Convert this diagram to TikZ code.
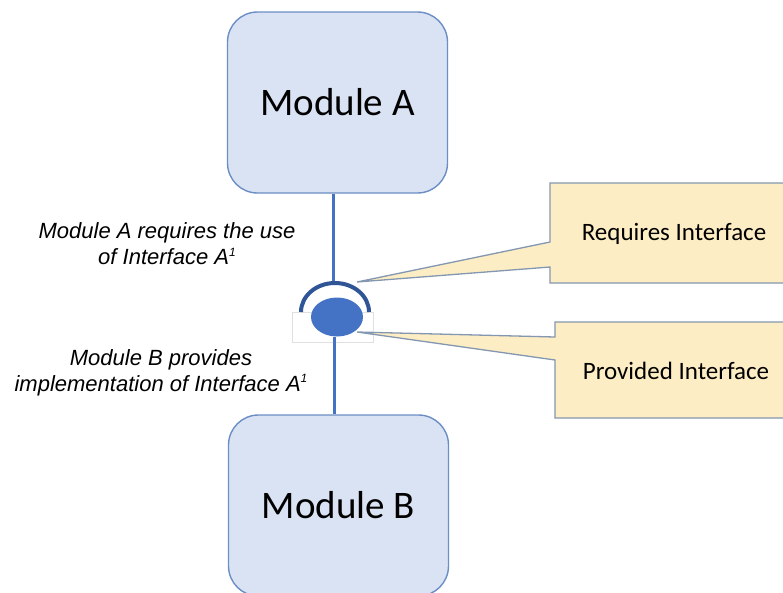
\documentclass[tikz,border=0pt]{standalone}
\usepackage{fontspec}
\setmainfont{Carlito}
\newfontfamily\labfont{Liberation Sans}
\usetikzlibrary{shapes.geometric}
\definecolor{modfill}{HTML}{DAE3F3}
\definecolor{modline}{HTML}{6C8EC6}
\definecolor{linkblue}{HTML}{4472C4}
\definecolor{arcblue}{HTML}{2F5597}
\definecolor{callfill}{HTML}{FDEDC4}
\definecolor{callline}{HTML}{8497B0}
\newcommand{\supone}{\raisebox{0.4em}{\fontsize{12}{12}\selectfont 1}}
\tikzset{
  module/.style={draw=modline, fill=modfill, line width=1.4pt, rounded corners=30pt,
    minimum width=220pt, minimum height=181pt, inner sep=0pt, font=\fontsize{39}{42}\selectfont},
  link/.style={draw=linkblue, line width=3pt},
  sockarc/.style={draw=arcblue, line width=4pt},
  callout/.style={draw=callline, fill=callfill, line width=1.3pt, line join=miter},
  calltext/.style={inner sep=0pt, font=\fontsize{25}{28}\selectfont},
  note/.style={inner sep=0pt, align=center, font=\labfont\itshape\fontsize{22}{26}\selectfont}
}
\begin{document}
\begin{tikzpicture}[x=1pt,y=-1pt]
\useasboundingbox (0,0) rectangle (783,592);
\clip (0,0) rectangle (783,592);
\fill[white] (0,0) rectangle (783,592);
% modules
\node[module] (modA) at (337.5,102.5) {Module A};
\node[module] (modB) at (338.5,505.5) {Module B};
% faint backdrop behind the ball
\draw[draw=black!12, fill=white, line width=0.8pt] (292,312) rectangle (373,342);
% ball
\node[ellipse, fill=linkblue, minimum width=52pt, minimum height=39pt, inner sep=0pt] (ball) at (337,317) {};
\coordinate (sockTop) at (333,283);
% connectors
\draw[link] (modA.south -| sockTop) -- (sockTop);
\draw[link] ([xshift=-3pt]ball.south) -- ([xshift=-3pt]ball.south |- modB.north);
% socket arc
\draw[sockarc] (301,312) arc[start angle=180, end angle=360, x radius=34, y radius=29];
% callouts
\draw[callout] (800,183) -- (550,183) -- (550,242) -- (357,282) -- (550,267) -- (550,283) -- (800,283);
\draw[callout] (800,322) -- (555,322) -- (555,337) -- (357,332) -- (555,360) -- (555,418) -- (800,418);
\node[calltext] (reqText) at (674,234) {Requires Interface};
\node[calltext] (provText) at (676,371) {Provided Interface};
% notes
\node[note] (noteA) at (167,244) {Module A requires the use\\of Interface A\supone};
\node[note] (noteB) at (161,373) {Module B provides\\implementation of Interface A\supone};
\end{tikzpicture}
\end{document}
